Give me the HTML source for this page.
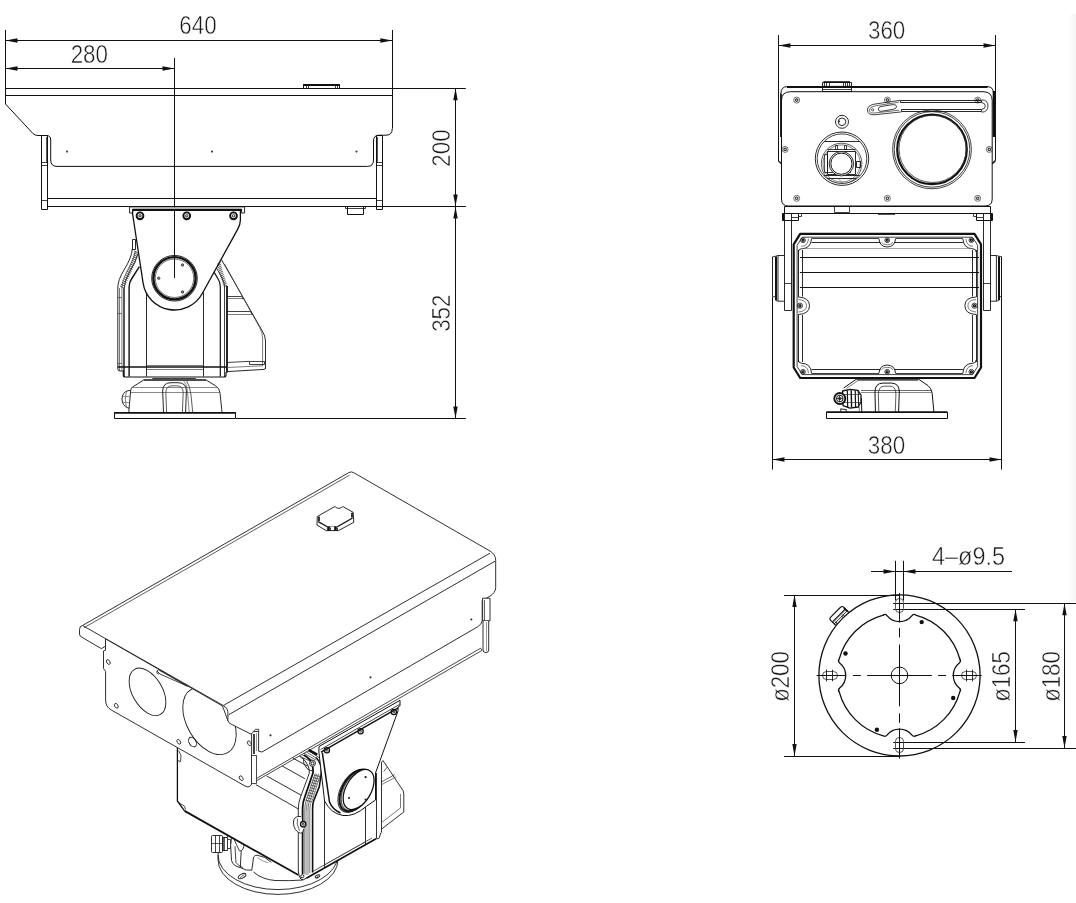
<!DOCTYPE html>
<html lang="en">
<head>
<meta charset="utf-8">
<title>PTZ camera housing - outline dimensions</title>
<style>
html,body{margin:0;padding:0;background:#fff;}
body{width:1076px;height:903px;overflow:hidden;font-family:"Liberation Sans",sans-serif;}
svg{display:block;filter:grayscale(1);}
svg text{font-family:"Liberation Sans",sans-serif;}
</style>
</head>
<body>
<svg width="1076" height="903" viewBox="0 0 1076 903" fill="none" stroke-linecap="butt" stroke-linejoin="round">
<defs><linearGradient id="edge" x1="0" y1="0" x2="1" y2="0"><stop offset="0" stop-color="#ffffff"/><stop offset="1" stop-color="#f5f5f5"/></linearGradient></defs>
<rect x="0" y="0" width="1076" height="903" fill="#fff" stroke="none"/>
<rect x="1068" y="14" width="8" height="588" fill="url(#edge)" stroke="none"/>
<!-- side view -->
<line x1="5.50" y1="30.00" x2="5.50" y2="104.00" stroke="#111" stroke-width="1" />
<line x1="392.50" y1="30.00" x2="392.50" y2="128.50" stroke="#111" stroke-width="1" />
<line x1="5.50" y1="40.50" x2="392.30" y2="40.50" stroke="#111" stroke-width="1" /><polygon points="5.50,40.50 17.50,38.30 17.50,42.70" fill="#111"/><polygon points="392.30,40.50 380.30,42.70 380.30,38.30" fill="#111"/>
<line x1="5.50" y1="68.50" x2="174.50" y2="68.50" stroke="#111" stroke-width="1" /><polygon points="5.50,68.50 17.50,66.30 17.50,70.70" fill="#111"/><polygon points="174.50,68.50 162.50,70.70 162.50,66.30" fill="#111"/>
<line x1="174.50" y1="58.00" x2="174.50" y2="278.00" stroke="#111" stroke-width="1" />
<text transform="translate(198.00 34.40) rotate(0) scale(0.845 1)" text-anchor="middle" font-size="26.5" fill="#1a1a1a" stroke="#fff" stroke-width="0.5">640</text>
<text transform="translate(89.30 62.60) rotate(0) scale(0.845 1)" text-anchor="middle" font-size="26.5" fill="#1a1a1a" stroke="#fff" stroke-width="0.5">280</text>
<line x1="5.50" y1="88.50" x2="465.80" y2="88.50" stroke="#111" stroke-width="1" />
<line x1="47.70" y1="206.50" x2="465.80" y2="206.50" stroke="#111" stroke-width="1" />
<line x1="235.80" y1="418.50" x2="465.80" y2="418.50" stroke="#111" stroke-width="1" />
<line x1="455.50" y1="88.30" x2="455.50" y2="206.40" stroke="#111" stroke-width="1" /><polygon points="455.50,88.30 457.70,100.30 453.30,100.30" fill="#111"/><polygon points="455.50,206.40 453.30,194.40 457.70,194.40" fill="#111"/>
<line x1="455.50" y1="206.40" x2="455.50" y2="418.40" stroke="#111" stroke-width="1" /><polygon points="455.50,206.40 457.70,218.40 453.30,218.40" fill="#111"/><polygon points="455.50,418.40 453.30,406.40 457.70,406.40" fill="#111"/>
<text transform="translate(449.70 148.00) rotate(-90) scale(0.845 1)" text-anchor="middle" font-size="26.5" fill="#1a1a1a" stroke="#fff" stroke-width="0.5">200</text>
<text transform="translate(449.70 313.20) rotate(-90) scale(0.845 1)" text-anchor="middle" font-size="26.5" fill="#1a1a1a" stroke="#fff" stroke-width="0.5">352</text>
<line x1="5.50" y1="95.50" x2="392.30" y2="95.50" stroke="#111" stroke-width="1" />
<path d="M5.5,104 L33,133.6 Q35,135.5 38,135.5 H46.5 Q50.7,135.5 50.7,140 V160 Q50.7,166.4 57,166.4 H367.5 Q373.5,166.4 373.5,160 V141 Q373.5,135.2 379,135.2 H386 Q392.3,135.2 392.3,128.5" fill="none" stroke="#111" stroke-width="1" />
<rect x="41.50" y="135.50" width="6.00" height="74.00" rx="0" fill="none" stroke="#111" stroke-width="1"/>
<line x1="46.50" y1="137.00" x2="46.50" y2="162.60" stroke="#111" stroke-width="0.7" />
<line x1="41.40" y1="162.50" x2="47.70" y2="162.50" stroke="#111" stroke-width="0.8" />
<line x1="41.40" y1="165.50" x2="47.70" y2="165.50" stroke="#111" stroke-width="0.8" />
<line x1="41.40" y1="200.50" x2="47.70" y2="200.50" stroke="#111" stroke-width="0.8" />
<rect x="376.50" y="135.50" width="6.00" height="74.00" rx="0" fill="none" stroke="#111" stroke-width="1"/>
<line x1="377.50" y1="137.00" x2="377.50" y2="162.60" stroke="#111" stroke-width="0.7" />
<line x1="376.50" y1="162.50" x2="382.80" y2="162.50" stroke="#111" stroke-width="0.8" />
<line x1="376.50" y1="165.50" x2="382.80" y2="165.50" stroke="#111" stroke-width="0.8" />
<line x1="376.50" y1="200.50" x2="382.80" y2="200.50" stroke="#111" stroke-width="0.8" />
<line x1="47.70" y1="198.50" x2="376.50" y2="198.50" stroke="#111" stroke-width="1" />
<circle cx="67.00" cy="151.60" r="1.1" fill="#444"/>
<circle cx="212.00" cy="151.60" r="1.1" fill="#444"/>
<circle cx="356.50" cy="151.60" r="1.1" fill="#444"/>
<rect x="303.50" y="84.50" width="36.00" height="4.00" rx="0" fill="none" stroke="#111" stroke-width="1"/>
<line x1="303.30" y1="85.00" x2="339.80" y2="85.00" stroke="#111" stroke-width="1.8" />
<line x1="306.50" y1="85.00" x2="306.50" y2="88.30" stroke="#111" stroke-width="0.8" />
<line x1="308.50" y1="85.00" x2="308.50" y2="88.30" stroke="#111" stroke-width="0.8" />
<line x1="335.50" y1="85.00" x2="335.50" y2="88.30" stroke="#111" stroke-width="0.8" />
<line x1="337.50" y1="85.00" x2="337.50" y2="88.30" stroke="#111" stroke-width="0.8" />
<rect x="345.50" y="206.50" width="20.00" height="2.00" rx="0" fill="none" stroke="#111" stroke-width="0.8"/>
<rect x="347.50" y="206.50" width="16.00" height="8.00" rx="0" fill="none" stroke="#111" stroke-width="1"/>
<path d="M129.6,213 V206.9 H244.6 V213 H241.6 V209.3 H132.6 V213 Z" fill="none" stroke="#111" stroke-width="0.9" />
<path d="M132.6,207.4 H241.6 V209.4 H132.6 Z" fill="#b5b5b5" stroke="none" stroke-width="none" />
<line x1="132.20" y1="210.00" x2="241.80" y2="210.00" stroke="#111" stroke-width="2.0" />
<circle cx="140.00" cy="215.80" r="3.40" fill="none" stroke="#111" stroke-width="1.9"/>
<circle cx="140.00" cy="215.80" r="1.20" fill="none" stroke="#111" stroke-width="0.9"/>
<circle cx="186.75" cy="215.80" r="3.40" fill="none" stroke="#111" stroke-width="1.9"/>
<circle cx="186.75" cy="215.80" r="1.20" fill="none" stroke="#111" stroke-width="0.9"/>
<circle cx="233.50" cy="215.80" r="3.40" fill="none" stroke="#111" stroke-width="1.9"/>
<circle cx="233.50" cy="215.80" r="1.20" fill="none" stroke="#111" stroke-width="0.9"/>
<path d="M132.6,211 V214 L143.1,283.1 A31.75,31.75 0 0 0 202.3,293.5 L237.6,229.4 Q240.4,224.5 240.4,220 V211" fill="none" stroke="#111" stroke-width="1.3" />
<circle cx="174.50" cy="278.25" r="22.80" fill="none" stroke="#111" stroke-width="0.9"/>
<circle cx="174.50" cy="278.25" r="21.10" fill="none" stroke="#111" stroke-width="2.4"/>
<circle cx="174.50" cy="278.25" r="19.20" fill="none" stroke="#333" stroke-width="0.7"/>
<circle cx="182.50" cy="265.00" r="1.20" fill="#999" stroke="#222" stroke-width="0.8"/>
<circle cx="158.75" cy="278.25" r="1.20" fill="#999" stroke="#222" stroke-width="0.8"/>
<circle cx="182.50" cy="292.00" r="1.20" fill="#999" stroke="#222" stroke-width="0.8"/>
<path d="M139.4,266.7 L131.5,279 Q129.1,282.5 129.1,287 V376.6" fill="none" stroke="#111" stroke-width="1.4" />
<path d="M214.2,272.4 L218.4,279.5 Q220.3,282.8 220.3,287 V376.6" fill="none" stroke="#111" stroke-width="1.2" />
<line x1="124.00" y1="288.00" x2="124.00" y2="376.60" stroke="#111" stroke-width="1.4" />
<line x1="224.50" y1="287.00" x2="224.50" y2="376.60" stroke="#111" stroke-width="0.8" />
<line x1="227.00" y1="286.00" x2="227.00" y2="372.50" stroke="#111" stroke-width="1.8" />
<line x1="146.50" y1="294.00" x2="146.50" y2="376.60" stroke="#111" stroke-width="0.9" />
<line x1="203.50" y1="292.40" x2="203.50" y2="376.60" stroke="#111" stroke-width="0.9" />
<path d="M132.3,249 Q132,257 124,270 Q117.8,280 117.8,288 V369 Q117.8,371 120,371 H123.5" fill="none" stroke="#111" stroke-width="0.9" />
<path d="M137.9,253.9 Q136,262 129.5,272 Q124.3,281 124.3,288" fill="none" stroke="#111" stroke-width="0.9" />
<path d="M135.3,251.5 Q133.5,260 127,271 Q121.9,280 121.9,288 V371" fill="none" stroke="#444" stroke-width="0.7" />
<line x1="119.50" y1="288.00" x2="119.50" y2="371.00" stroke="#444" stroke-width="0.7" />
<rect x="132.50" y="239.50" width="3.00" height="10.00" rx="0" fill="none" stroke="#111" stroke-width="0.9"/>
<line x1="117.80" y1="297.50" x2="121.90" y2="297.50" stroke="#444" stroke-width="0.7" />
<line x1="117.80" y1="313.50" x2="121.90" y2="313.50" stroke="#444" stroke-width="0.7" />
<line x1="117.80" y1="363.50" x2="121.90" y2="363.50" stroke="#444" stroke-width="0.7" />
<line x1="134.30" y1="251.00" x2="138.10" y2="252.90" stroke="#222" stroke-width="0.8" />
<line x1="133.94" y1="252.84" x2="137.74" y2="254.74" stroke="#222" stroke-width="0.8" />
<line x1="133.44" y1="254.68" x2="137.24" y2="256.58" stroke="#222" stroke-width="0.8" />
<line x1="132.88" y1="256.53" x2="136.68" y2="258.43" stroke="#222" stroke-width="0.8" />
<line x1="132.26" y1="258.37" x2="136.06" y2="260.27" stroke="#222" stroke-width="0.8" />
<line x1="131.60" y1="260.21" x2="135.40" y2="262.11" stroke="#222" stroke-width="0.8" />
<line x1="130.91" y1="262.05" x2="134.71" y2="263.95" stroke="#222" stroke-width="0.8" />
<line x1="130.20" y1="263.89" x2="134.00" y2="265.79" stroke="#222" stroke-width="0.8" />
<line x1="129.45" y1="265.74" x2="133.25" y2="267.64" stroke="#222" stroke-width="0.8" />
<line x1="128.68" y1="267.58" x2="132.48" y2="269.48" stroke="#222" stroke-width="0.8" />
<line x1="127.89" y1="269.42" x2="131.69" y2="271.32" stroke="#222" stroke-width="0.8" />
<line x1="127.08" y1="271.26" x2="130.88" y2="273.16" stroke="#222" stroke-width="0.8" />
<line x1="126.25" y1="273.11" x2="130.05" y2="275.01" stroke="#222" stroke-width="0.8" />
<line x1="125.40" y1="274.95" x2="129.20" y2="276.85" stroke="#222" stroke-width="0.8" />
<line x1="124.54" y1="276.79" x2="128.34" y2="278.69" stroke="#222" stroke-width="0.8" />
<line x1="123.66" y1="278.63" x2="127.46" y2="280.53" stroke="#222" stroke-width="0.8" />
<line x1="122.76" y1="280.47" x2="126.56" y2="282.37" stroke="#222" stroke-width="0.8" />
<line x1="121.86" y1="282.32" x2="125.66" y2="284.22" stroke="#222" stroke-width="0.8" />
<line x1="120.93" y1="284.16" x2="124.73" y2="286.06" stroke="#222" stroke-width="0.8" />
<line x1="120.00" y1="286.00" x2="123.80" y2="287.90" stroke="#222" stroke-width="0.8" />
<line x1="217.20" y1="264.20" x2="220.60" y2="262.50" stroke="#222" stroke-width="0.8" />
<line x1="217.50" y1="265.93" x2="220.90" y2="264.23" stroke="#222" stroke-width="0.8" />
<line x1="217.90" y1="267.66" x2="221.30" y2="265.96" stroke="#222" stroke-width="0.8" />
<line x1="218.34" y1="269.39" x2="221.74" y2="267.69" stroke="#222" stroke-width="0.8" />
<line x1="218.80" y1="271.12" x2="222.20" y2="269.42" stroke="#222" stroke-width="0.8" />
<line x1="219.30" y1="272.85" x2="222.70" y2="271.15" stroke="#222" stroke-width="0.8" />
<line x1="219.81" y1="274.58" x2="223.21" y2="272.88" stroke="#222" stroke-width="0.8" />
<line x1="220.34" y1="276.32" x2="223.74" y2="274.62" stroke="#222" stroke-width="0.8" />
<line x1="220.89" y1="278.05" x2="224.29" y2="276.35" stroke="#222" stroke-width="0.8" />
<line x1="221.45" y1="279.78" x2="224.85" y2="278.08" stroke="#222" stroke-width="0.8" />
<line x1="222.02" y1="281.51" x2="225.42" y2="279.81" stroke="#222" stroke-width="0.8" />
<line x1="222.60" y1="283.24" x2="226.00" y2="281.54" stroke="#222" stroke-width="0.8" />
<line x1="223.20" y1="284.97" x2="226.60" y2="283.27" stroke="#222" stroke-width="0.8" />
<line x1="223.80" y1="286.70" x2="227.20" y2="285.00" stroke="#222" stroke-width="0.8" />
<path d="M216.5,268 L222,278 Q224.6,283 224.6,287" fill="none" stroke="#111" stroke-width="0.8" />
<path d="M221.4,259.5 L262.3,331 Q265.5,336 265.5,341 V368.5" fill="none" stroke="#111" stroke-width="0.9" />
<path d="M224.6,264 L259.6,327.5 Q262.6,333 262.6,338 V366" fill="none" stroke="#444" stroke-width="0.7" />
<line x1="227.00" y1="296.50" x2="241.60" y2="296.50" stroke="#111" stroke-width="0.8" />
<line x1="227.00" y1="298.50" x2="243.00" y2="298.50" stroke="#444" stroke-width="0.7" />
<path d="M241.6,296.4 L243.3,299.3" fill="none" stroke="#111" stroke-width="0.7" />
<line x1="227.00" y1="311.50" x2="250.60" y2="311.50" stroke="#111" stroke-width="0.8" />
<line x1="227.00" y1="314.50" x2="252.00" y2="314.50" stroke="#444" stroke-width="0.7" />
<path d="M250.6,311.7 L252.3,314.6" fill="none" stroke="#111" stroke-width="0.7" />
<line x1="227.00" y1="362.50" x2="249.60" y2="361.30" stroke="#111" stroke-width="0.8" />
<rect x="249.50" y="361.50" width="15.00" height="3.00" rx="0" fill="none" stroke="#111" stroke-width="0.8"/>
<path d="M227,371.6 L264,369.4 Q265.5,369.3 265.5,368" fill="none" stroke="#111" stroke-width="0.9" />
<line x1="227.00" y1="367.50" x2="262.60" y2="365.80" stroke="#444" stroke-width="0.7" />
<line x1="117.80" y1="367.00" x2="227.00" y2="367.00" stroke="#111" stroke-width="1.6" />
<line x1="146.40" y1="365.50" x2="203.70" y2="365.50" stroke="#444" stroke-width="0.7" />
<line x1="146.40" y1="369.50" x2="203.70" y2="369.50" stroke="#444" stroke-width="0.7" />
<path d="M123.3,371 V375 Q123.3,377 125.3,377 H224 Q226,377 226,375 V372" fill="none" stroke="#111" stroke-width="1.2" />
<line x1="152.40" y1="378.50" x2="195.90" y2="378.50" stroke="#111" stroke-width="0.8" />
<line x1="143.70" y1="380.00" x2="206.10" y2="380.00" stroke="#111" stroke-width="1.6" />
<path d="M143.7,380 L132.5,387 Q130.8,388.2 130.6,391 L128.8,412" fill="none" stroke="#111" stroke-width="0.9" />
<path d="M206.1,380 L215.5,385.8 Q219.5,388 220,393 L222,412" fill="none" stroke="#111" stroke-width="0.9" />
<line x1="131.50" y1="387.50" x2="218.00" y2="387.50" stroke="#555" stroke-width="0.7" />
<line x1="130.80" y1="392.50" x2="220.00" y2="392.50" stroke="#555" stroke-width="0.7" />
<path d="M163.5,412 L162.7,391 Q162.7,382.7 171,382.7 H178 Q186.4,382.7 186.4,391 L185.6,412" fill="none" stroke="#111" stroke-width="0.9" />
<path d="M166.6,412 L165.8,393 Q165.8,385.8 172,385.8 H177 Q183.2,385.8 183.2,393 L182.4,412" fill="none" stroke="#333" stroke-width="0.8" />
<path d="M186.4,380.3 Q190,386 191,395 L192.7,412" fill="none" stroke="#333" stroke-width="0.8" />
<path d="M183,380.3 Q186.5,383 187.5,392 L189.2,412" fill="none" stroke="#555" stroke-width="0.7" />
<path d="M130.2,390.6 H128 Q122,392.5 122,399 Q122,405.5 128,408 H129.2" fill="none" stroke="#111" stroke-width="0.9" />
<path d="M126.3,391.2 Q124.5,399 126.3,407.3" fill="none" stroke="#444" stroke-width="0.7" />
<line x1="122.60" y1="396.50" x2="130.00" y2="396.50" stroke="#555" stroke-width="0.6" />
<line x1="122.60" y1="402.50" x2="129.60" y2="402.50" stroke="#555" stroke-width="0.6" />
<rect x="114.50" y="412.50" width="121.00" height="6.00" rx="0" fill="none" stroke="#111" stroke-width="1"/>
<line x1="114.20" y1="413.00" x2="235.80" y2="413.00" stroke="#111" stroke-width="1.6" />
<!-- front view -->
<line x1="778.50" y1="35.00" x2="778.50" y2="161.00" stroke="#111" stroke-width="1" />
<line x1="995.50" y1="35.00" x2="995.50" y2="160.50" stroke="#111" stroke-width="1" />
<line x1="778.40" y1="45.50" x2="995.50" y2="45.50" stroke="#111" stroke-width="1" /><polygon points="778.40,45.50 790.40,43.30 790.40,47.70" fill="#111"/><polygon points="995.50,45.50 983.50,47.70 983.50,43.30" fill="#111"/>
<text transform="translate(886.60 39.40) rotate(0) scale(0.845 1)" text-anchor="middle" font-size="26.5" fill="#1a1a1a" stroke="#fff" stroke-width="0.5">360</text>
<path d="M780.9,137 V93.5 Q780.9,86.6 787.5,86.6 H987 Q993.5,86.6 993.5,93.5" fill="none" stroke="#111" stroke-width="1" />
<line x1="787.00" y1="87.00" x2="987.50" y2="87.00" stroke="#111" stroke-width="2.0" />
<line x1="781.00" y1="93.50" x2="781.00" y2="137.00" stroke="#111" stroke-width="1.6" />
<line x1="994.00" y1="91.00" x2="994.00" y2="137.00" stroke="#111" stroke-width="2.6" />
<path d="M778.4,161 L781.5,163.8" fill="none" stroke="#111" stroke-width="1.2" />
<path d="M995.5,160.5 L992.2,163.8" fill="none" stroke="#111" stroke-width="1.6" />
<path d="M781.5,199 V100.5 Q781.5,91.7 790.5,91.7 H983 Q992.2,91.7 992.2,100.5 V199 Q992.2,206 985,206 H788.5 Q781.5,206 781.5,199 Z" fill="none" stroke="#111" stroke-width="1" />
<rect x="822.50" y="82.50" width="29.00" height="9.00" rx="0" fill="none" stroke="#111" stroke-width="0.9"/>
<line x1="823.50" y1="82.00" x2="850.00" y2="82.00" stroke="#111" stroke-width="1.6" />
<line x1="822.30" y1="86.50" x2="851.00" y2="86.50" stroke="#111" stroke-width="1.2" />
<line x1="822.30" y1="89.50" x2="851.00" y2="89.50" stroke="#111" stroke-width="0.8" />
<line x1="824.50" y1="83.00" x2="824.50" y2="86.20" stroke="#111" stroke-width="0.8" />
<line x1="826.50" y1="83.00" x2="826.50" y2="86.20" stroke="#111" stroke-width="0.8" />
<line x1="829.50" y1="83.00" x2="829.50" y2="86.20" stroke="#111" stroke-width="0.8" />
<line x1="843.50" y1="83.00" x2="843.50" y2="86.20" stroke="#111" stroke-width="0.8" />
<line x1="845.50" y1="83.00" x2="845.50" y2="86.20" stroke="#111" stroke-width="0.8" />
<line x1="847.50" y1="83.00" x2="847.50" y2="86.20" stroke="#111" stroke-width="0.8" />
<line x1="849.50" y1="83.00" x2="849.50" y2="86.20" stroke="#111" stroke-width="0.8" />
<circle cx="796.70" cy="100.10" r="3.00" fill="none" stroke="#333" stroke-width="0.7"/><circle cx="796.70" cy="100.10" r="1.26" fill="none" stroke="#333" stroke-width="1.1"/>
<circle cx="887.40" cy="100.10" r="3.00" fill="none" stroke="#333" stroke-width="0.7"/><circle cx="887.40" cy="100.10" r="1.26" fill="none" stroke="#333" stroke-width="1.1"/>
<circle cx="977.70" cy="100.10" r="3.00" fill="none" stroke="#333" stroke-width="0.7"/><circle cx="977.70" cy="100.10" r="1.26" fill="none" stroke="#333" stroke-width="1.1"/>
<circle cx="785.10" cy="149.40" r="3.00" fill="none" stroke="#333" stroke-width="0.7"/><circle cx="785.10" cy="149.40" r="1.26" fill="none" stroke="#333" stroke-width="1.1"/>
<circle cx="989.30" cy="149.40" r="3.00" fill="none" stroke="#333" stroke-width="0.7"/><circle cx="989.30" cy="149.40" r="1.26" fill="none" stroke="#333" stroke-width="1.1"/>
<circle cx="796.70" cy="198.30" r="3.00" fill="none" stroke="#333" stroke-width="0.7"/><circle cx="796.70" cy="198.30" r="1.26" fill="none" stroke="#333" stroke-width="1.1"/>
<circle cx="887.40" cy="198.30" r="3.00" fill="none" stroke="#333" stroke-width="0.7"/><circle cx="887.40" cy="198.30" r="1.26" fill="none" stroke="#333" stroke-width="1.1"/>
<circle cx="977.70" cy="198.30" r="3.00" fill="none" stroke="#333" stroke-width="0.7"/><circle cx="977.70" cy="198.30" r="1.26" fill="none" stroke="#333" stroke-width="1.1"/>
<circle cx="842.00" cy="121.80" r="6.50" fill="none" stroke="#111" stroke-width="0.9"/>
<circle cx="842.00" cy="121.80" r="3.80" fill="none" stroke="#111" stroke-width="0.9"/>
<circle cx="839.30" cy="121.40" r="0.8" fill="#222"/>
<circle cx="842.00" cy="158.70" r="26.70" fill="none" stroke="#111" stroke-width="0.9"/>
<circle cx="842.00" cy="158.70" r="24.80" fill="none" stroke="#111" stroke-width="0.8"/>
<clipPath id="lensL"><circle cx="842" cy="158.7" r="24.6"/></clipPath>
<g clip-path="url(#lensL)"><line x1="815.00" y1="141.50" x2="870.00" y2="141.50" stroke="#111" stroke-width="0.9" /><circle cx="841.60" cy="163.50" r="20.30" fill="none" stroke="#333" stroke-width="0.8"/><circle cx="841.60" cy="163.50" r="18.60" fill="none" stroke="#444" stroke-width="0.7"/><rect x="827.50" y="151.50" width="28.00" height="23.00" rx="0" fill="none" stroke="#111" stroke-width="0.9"/><line x1="827.40" y1="149.50" x2="855.60" y2="149.50" stroke="#111" stroke-width="0.8" /><rect x="835.50" y="145.50" width="2.00" height="4.00" rx="0" fill="none" stroke="#111" stroke-width="0.8"/><rect x="844.50" y="145.50" width="2.00" height="4.00" rx="0" fill="none" stroke="#111" stroke-width="0.8"/><rect x="824.50" y="154.50" width="3.00" height="18.00" rx="0" fill="none" stroke="#111" stroke-width="0.7"/><rect x="856.50" y="161.50" width="4.00" height="6.00" rx="0" fill="none" stroke="#111" stroke-width="0.9"/><line x1="820.00" y1="175.50" x2="864.00" y2="175.50" stroke="#111" stroke-width="0.9" /><line x1="820.00" y1="178.50" x2="864.00" y2="178.50" stroke="#111" stroke-width="0.9" /><line x1="827.40" y1="172.50" x2="851.00" y2="172.50" stroke="#111" stroke-width="0.8" /><circle cx="841.40" cy="163.70" r="12.20" fill="#fff" stroke="#111" stroke-width="0.9"/><circle cx="841.40" cy="163.70" r="10.60" fill="none" stroke="#111" stroke-width="1.0"/><line x1="838.00" y1="178.60" x2="845.00" y2="185.00" stroke="#555" stroke-width="0.6" /></g>
<circle cx="932.00" cy="149.40" r="39.40" fill="none" stroke="#111" stroke-width="0.8"/>
<circle cx="932.00" cy="149.40" r="37.80" fill="none" stroke="#111" stroke-width="0.8"/>
<circle cx="932.00" cy="149.40" r="34.80" fill="none" stroke="#111" stroke-width="2.2"/>
<circle cx="932.60" cy="148.90" r="33.60" fill="none" stroke="#333" stroke-width="0.8"/>
<rect x="900.50" y="100.50" width="81.00" height="2.00" rx="0" fill="none" stroke="#111" stroke-width="0.9"/>
<rect x="901.50" y="109.50" width="80.00" height="2.00" rx="0" fill="none" stroke="#111" stroke-width="0.9"/>
<path d="M981.6,99.8 Q988,100 988,106 Q988,112 981.6,112.2" fill="none" stroke="#111" stroke-width="0.8" />
<path d="M981.6,102.6 Q985.3,103 985.3,106 Q985.3,109 981.6,109.4" fill="none" stroke="#111" stroke-width="0.8" />
<path d="M900.2,100.3 L874,104.2 Q867.5,105.5 867.5,110 Q867.5,115 874,114.8 L901.4,111.9" fill="none" stroke="#111" stroke-width="0.8" />
<path d="M899,102.2 L875,105.9 Q869.4,107 869.4,110 Q869.4,113.4 874.5,113 L899,110.2" fill="none" stroke="#333" stroke-width="0.7" />
<path d="M881,106.5 L893,104.6 Q896.5,104.3 896.5,106.6 Q896.5,108.6 893.5,109.2 L881.5,111.3 Q878.3,111.6 878.3,109.2 Q878.3,107 881,106.5 Z" fill="none" stroke="#111" stroke-width="0.8" />
<circle cx="872.60" cy="109.80" r="1.10" fill="none" stroke="#111" stroke-width="0.7"/>
<rect x="784.50" y="206.50" width="206.00" height="7.00" rx="0" fill="none" stroke="#111" stroke-width="1"/>
<rect x="834.50" y="206.50" width="15.00" height="6.00" rx="0" fill="none" stroke="#111" stroke-width="0.8"/>
<line x1="878.00" y1="214.00" x2="895.00" y2="214.00" stroke="#111" stroke-width="1.4" />
<rect x="784.50" y="213.50" width="7.00" height="97.00" rx="0" fill="none" stroke="#111" stroke-width="0.9"/>
<rect x="782.50" y="213.50" width="16.00" height="7.00" rx="0" fill="none" stroke="#111" stroke-width="1.0"/>
<line x1="783.00" y1="214.00" x2="783.00" y2="220.00" stroke="#111" stroke-width="2.0" />
<line x1="791.40" y1="217.50" x2="798.30" y2="217.50" stroke="#111" stroke-width="0.8" />
<rect x="798.50" y="213.50" width="3.00" height="3.00" rx="0" fill="none" stroke="#111" stroke-width="0.8"/>
<line x1="784.40" y1="283.50" x2="791.40" y2="283.50" stroke="#111" stroke-width="0.8" />
<path d="M784.40,255.5 H778.00 V301.2 H784.40" fill="none" stroke="#111" stroke-width="0.9" />
<line x1="776.00" y1="256.40" x2="776.00" y2="300.30" stroke="#111" stroke-width="2.0" />
<line x1="772.50" y1="256.80" x2="772.50" y2="296.70" stroke="#111" stroke-width="0.9" />
<path d="M772.50,256.8 L775.60,256.2 L778.00,255.5" fill="none" stroke="#111" stroke-width="0.8" />
<path d="M772.50,296.7 H775.00 M775.60,300.4 L778.00,301.2" fill="none" stroke="#111" stroke-width="0.8" />
<rect x="983.50" y="213.50" width="7.00" height="97.00" rx="0" fill="none" stroke="#111" stroke-width="0.9"/>
<rect x="976.50" y="213.50" width="16.00" height="7.00" rx="0" fill="none" stroke="#111" stroke-width="1.0"/>
<line x1="992.00" y1="214.00" x2="992.00" y2="220.00" stroke="#111" stroke-width="2.0" />
<line x1="983.00" y1="217.50" x2="976.10" y2="217.50" stroke="#111" stroke-width="0.8" />
<rect x="973.50" y="213.50" width="3.00" height="3.00" rx="0" fill="none" stroke="#111" stroke-width="0.8"/>
<line x1="990.00" y1="283.50" x2="983.00" y2="283.50" stroke="#111" stroke-width="0.8" />
<path d="M990.00,255.5 H996.40 V301.2 H990.00" fill="none" stroke="#111" stroke-width="0.9" />
<line x1="999.00" y1="256.40" x2="999.00" y2="300.30" stroke="#111" stroke-width="2.0" />
<line x1="1001.50" y1="256.80" x2="1001.50" y2="296.70" stroke="#111" stroke-width="0.9" />
<path d="M1001.90,256.8 L998.80,256.2 L996.40,255.5" fill="none" stroke="#111" stroke-width="0.8" />
<path d="M1001.90,296.7 H999.40 M998.80,300.4 L996.40,301.2" fill="none" stroke="#111" stroke-width="0.8" />
<line x1="772.50" y1="297.00" x2="772.50" y2="469.50" stroke="#111" stroke-width="1" />
<line x1="1001.50" y1="257.00" x2="1001.50" y2="469.50" stroke="#111" stroke-width="1" />
<line x1="772.50" y1="459.50" x2="1001.50" y2="459.50" stroke="#111" stroke-width="1" /><polygon points="772.50,459.50 784.50,457.30 784.50,461.70" fill="#111"/><polygon points="1001.50,459.50 989.50,461.70 989.50,457.30" fill="#111"/>
<text transform="translate(886.50 453.90) rotate(0) scale(0.845 1)" text-anchor="middle" font-size="26.5" fill="#1a1a1a" stroke="#fff" stroke-width="0.5">380</text>
<path d="M800.2,233.8 H974.5 L981.0,244.3 V367.5 L974.5,378.0 H800.2 L793.7,367.5 V244.3 Z" fill="none" stroke="#111" stroke-width="2.2" />
<path d="M802.2,237.20000000000002 H972.5 L977.6,245.3 V366.5 L972.5,374.6 H802.2 L797.1,366.5 V245.3 Z" fill="none" stroke="#111" stroke-width="0.8" />
<line x1="811.50" y1="238.50" x2="879.00" y2="238.50" stroke="#111" stroke-width="0.8" />
<line x1="895.50" y1="238.50" x2="962.90" y2="238.50" stroke="#111" stroke-width="0.8" />
<line x1="811.50" y1="373.50" x2="879.00" y2="373.50" stroke="#111" stroke-width="0.8" />
<line x1="895.50" y1="373.50" x2="962.90" y2="373.50" stroke="#111" stroke-width="0.8" />
<line x1="811.50" y1="242.50" x2="880.50" y2="242.50" stroke="#111" stroke-width="0.9" />
<line x1="894.00" y1="242.50" x2="962.90" y2="242.50" stroke="#111" stroke-width="0.9" />
<line x1="811.50" y1="369.50" x2="880.50" y2="369.50" stroke="#111" stroke-width="0.9" />
<line x1="894.00" y1="369.50" x2="962.90" y2="369.50" stroke="#111" stroke-width="0.9" />
<line x1="798.50" y1="250.00" x2="798.50" y2="297.00" stroke="#111" stroke-width="0.9" />
<line x1="798.50" y1="314.50" x2="798.50" y2="362.00" stroke="#111" stroke-width="0.9" />
<line x1="802.50" y1="250.00" x2="802.50" y2="296.50" stroke="#111" stroke-width="0.9" />
<line x1="802.50" y1="315.00" x2="802.50" y2="362.00" stroke="#111" stroke-width="0.9" />
<path d="M811.50,238.8 Q811.00,248.5 801.40,248.8 Q798.30,249 798.30,252" fill="none" stroke="#111" stroke-width="0.9" />
<path d="M808.50,238.8 Q808.00,246 801.40,246.4" fill="none" stroke="#444" stroke-width="0.7" />
<circle cx="803.00" cy="240.20" r="2.40" fill="none" stroke="#111" stroke-width="0.8"/><circle cx="803.00" cy="240.20" r="1.01" fill="none" stroke="#111" stroke-width="1.2000000000000002"/>
<path d="M811.50,373.2 Q811.00,363.5 801.40,363.2 Q798.30,363 798.30,360" fill="none" stroke="#111" stroke-width="0.9" />
<path d="M808.50,373.2 Q808.00,366 801.40,365.6" fill="none" stroke="#444" stroke-width="0.7" />
<circle cx="803.00" cy="371.80" r="2.40" fill="none" stroke="#111" stroke-width="0.8"/><circle cx="803.00" cy="371.80" r="1.01" fill="none" stroke="#111" stroke-width="1.2000000000000002"/>
<path d="M798.30,297 Q809.50,297.5 809.50,305.7 Q809.50,314 798.30,314.5" fill="none" stroke="#111" stroke-width="0.9" />
<path d="M798.30,299.5 Q806.50,300 806.50,305.7 Q806.50,311.5 798.30,312" fill="none" stroke="#444" stroke-width="0.7" />
<circle cx="799.90" cy="305.70" r="2.60" fill="none" stroke="#111" stroke-width="0.8"/><circle cx="799.90" cy="305.70" r="1.09" fill="none" stroke="#111" stroke-width="1.2000000000000002"/>
<line x1="976.50" y1="250.00" x2="976.50" y2="297.00" stroke="#111" stroke-width="0.9" />
<line x1="976.50" y1="314.50" x2="976.50" y2="362.00" stroke="#111" stroke-width="0.9" />
<line x1="972.50" y1="250.00" x2="972.50" y2="296.50" stroke="#111" stroke-width="0.9" />
<line x1="972.50" y1="315.00" x2="972.50" y2="362.00" stroke="#111" stroke-width="0.9" />
<path d="M962.90,238.8 Q963.40,248.5 973.00,248.8 Q976.10,249 976.10,252" fill="none" stroke="#111" stroke-width="0.9" />
<path d="M965.90,238.8 Q966.40,246 973.00,246.4" fill="none" stroke="#444" stroke-width="0.7" />
<circle cx="971.40" cy="240.20" r="2.40" fill="none" stroke="#111" stroke-width="0.8"/><circle cx="971.40" cy="240.20" r="1.01" fill="none" stroke="#111" stroke-width="1.2000000000000002"/>
<path d="M962.90,373.2 Q963.40,363.5 973.00,363.2 Q976.10,363 976.10,360" fill="none" stroke="#111" stroke-width="0.9" />
<path d="M965.90,373.2 Q966.40,366 973.00,365.6" fill="none" stroke="#444" stroke-width="0.7" />
<circle cx="971.40" cy="371.80" r="2.40" fill="none" stroke="#111" stroke-width="0.8"/><circle cx="971.40" cy="371.80" r="1.01" fill="none" stroke="#111" stroke-width="1.2000000000000002"/>
<path d="M976.10,297 Q964.90,297.5 964.90,305.7 Q964.90,314 976.10,314.5" fill="none" stroke="#111" stroke-width="0.9" />
<path d="M976.10,299.5 Q967.90,300 967.90,305.7 Q967.90,311.5 976.10,312" fill="none" stroke="#444" stroke-width="0.7" />
<circle cx="974.50" cy="305.70" r="2.60" fill="none" stroke="#111" stroke-width="0.8"/><circle cx="974.50" cy="305.70" r="1.09" fill="none" stroke="#111" stroke-width="1.2000000000000002"/>
<path d="M879,238.79999999999998 Q879.5,246.7 887.2,247.0 Q895,246.7 895.5,238.79999999999998" fill="none" stroke="#111" stroke-width="0.9" />
<path d="M881.5,242.2 Q882.5,244.6 887.2,244.79999999999998 Q892,244.6 893,242.2" fill="none" stroke="#444" stroke-width="0.7" />
<circle cx="887.20" cy="240.20" r="2.40" fill="none" stroke="#111" stroke-width="0.8"/><circle cx="887.20" cy="240.20" r="1.01" fill="none" stroke="#111" stroke-width="1.2000000000000002"/>
<path d="M879,373.2 Q879.5,365.3 887.2,365.0 Q895,365.3 895.5,373.2" fill="none" stroke="#111" stroke-width="0.9" />
<path d="M881.5,369.8 Q882.5,367.40000000000003 887.2,367.2 Q892,367.40000000000003 893,369.8" fill="none" stroke="#444" stroke-width="0.7" />
<circle cx="887.20" cy="371.80" r="2.40" fill="none" stroke="#111" stroke-width="0.8"/><circle cx="887.20" cy="371.80" r="1.01" fill="none" stroke="#111" stroke-width="1.2000000000000002"/>
<line x1="801.00" y1="248.50" x2="973.40" y2="248.50" stroke="#666" stroke-width="0.6" />
<line x1="799.90" y1="257.50" x2="979.00" y2="257.50" stroke="#111" stroke-width="1.0" />
<line x1="799.90" y1="272.50" x2="979.00" y2="272.50" stroke="#111" stroke-width="1.0" />
<line x1="799.90" y1="287.50" x2="979.00" y2="287.50" stroke="#111" stroke-width="1.0" />
<line x1="856.10" y1="379.00" x2="918.90" y2="379.00" stroke="#111" stroke-width="1.5" />
<line x1="858.00" y1="380.50" x2="918.00" y2="380.50" stroke="#444" stroke-width="0.7" />
<path d="M856.1,379.4 L843.6,388" fill="none" stroke="#111" stroke-width="1.0" />
<path d="M858.5,380.2 L846.5,388.4" fill="none" stroke="#444" stroke-width="0.7" />
<path d="M918.9,379.4 L928,385.6 Q931.3,388 932.1,392.9 L933.9,411.8" fill="none" stroke="#111" stroke-width="1.0" />
<line x1="861.00" y1="390.50" x2="931.40" y2="390.50" stroke="#444" stroke-width="0.8" />
<line x1="861.00" y1="392.50" x2="931.80" y2="392.50" stroke="#555" stroke-width="0.7" />
<path d="M875.4,411.8 L875,392 Q875,383.1 883,383.1 H891.3 Q899.3,383.1 899.3,392 L898.6,411.8" fill="none" stroke="#111" stroke-width="1.0" />
<path d="M878.8,411.8 L878.4,394 Q878.4,386.2 884.4,386.2 H889.9 Q895.9,386.2 895.9,394 L895.3,411.8" fill="none" stroke="#333" stroke-width="0.8" />
<path d="M842.5,391 L850,389.4 L858,390.4 L861,395 V402 L858,407 L850,408.2 L843,405.6 Z" fill="#fff" stroke="#111" stroke-width="1.3" />
<line x1="847.30" y1="390.20" x2="847.70" y2="407.60" stroke="#111" stroke-width="1.2" />
<line x1="851.20" y1="390.20" x2="851.60" y2="407.60" stroke="#111" stroke-width="1.4" />
<line x1="855.20" y1="390.20" x2="855.60" y2="407.60" stroke="#111" stroke-width="1.2" />
<line x1="858.20" y1="390.20" x2="858.60" y2="407.60" stroke="#111" stroke-width="1.0" />
<line x1="843.00" y1="394.50" x2="860.50" y2="394.50" stroke="#333" stroke-width="0.7" />
<line x1="843.00" y1="402.50" x2="860.50" y2="402.50" stroke="#333" stroke-width="0.7" />
<circle cx="839.80" cy="398.50" r="5.50" fill="#fff" stroke="#111" stroke-width="1.9"/>
<circle cx="839.80" cy="398.50" r="3.30" fill="none" stroke="#111" stroke-width="1.0"/>
<circle cx="839.80" cy="398.50" r="1.30" fill="none" stroke="#111" stroke-width="0.9"/>
<line x1="836.60" y1="398.50" x2="843.00" y2="398.50" stroke="#111" stroke-width="0.7" />
<line x1="839.50" y1="395.30" x2="839.50" y2="401.70" stroke="#111" stroke-width="0.7" />
<line x1="861.30" y1="398.00" x2="861.80" y2="411.80" stroke="#111" stroke-width="1.0" />
<line x1="859.00" y1="404.00" x2="859.30" y2="411.80" stroke="#444" stroke-width="0.7" />
<path d="M840.8,408.6 V411.8 M846.2,409.4 V411.8 M840.8,408.9 L846.2,409.6" fill="none" stroke="#111" stroke-width="0.9" />
<rect x="826.50" y="412.50" width="121.00" height="6.00" rx="0" fill="none" stroke="#111" stroke-width="1"/>
<line x1="826.30" y1="412.00" x2="947.50" y2="412.00" stroke="#111" stroke-width="1.5" />
<!-- bottom view -->
<text transform="translate(968.50 565.40) rotate(0) scale(0.885 1)" text-anchor="middle" font-size="26.5" fill="#1a1a1a" stroke="#fff" stroke-width="0.5">4&#8211;&#248;9.5</text>
<line x1="871.00" y1="571.50" x2="1012.00" y2="571.50" stroke="#111" stroke-width="1" />
<polygon points="895.50,571.50 883.50,573.70 883.50,569.30" fill="#111"/>
<polygon points="903.50,571.50 915.50,569.30 915.50,573.70" fill="#111"/>
<line x1="895.50" y1="560.80" x2="895.50" y2="600.50" stroke="#111" stroke-width="1" />
<line x1="903.50" y1="560.80" x2="903.50" y2="600.50" stroke="#111" stroke-width="1" />
<line x1="784.00" y1="595.50" x2="899.50" y2="595.50" stroke="#111" stroke-width="1" />
<line x1="784.00" y1="756.50" x2="899.50" y2="756.50" stroke="#111" stroke-width="1" />
<line x1="794.50" y1="595.00" x2="794.50" y2="756.00" stroke="#111" stroke-width="1" /><polygon points="794.50,595.00 796.70,607.00 792.30,607.00" fill="#111"/><polygon points="794.50,756.00 792.30,744.00 796.70,744.00" fill="#111"/>
<text transform="translate(789.00 676.50) rotate(-90) scale(0.84 1)" text-anchor="middle" font-size="26.5" fill="#1a1a1a" stroke="#fff" stroke-width="0.5">&#248;200</text>
<line x1="893.20" y1="609.50" x2="1025.00" y2="609.50" stroke="#111" stroke-width="1" />
<line x1="893.20" y1="742.50" x2="1025.00" y2="742.50" stroke="#111" stroke-width="1" />
<line x1="1015.50" y1="609.20" x2="1015.50" y2="742.00" stroke="#111" stroke-width="1" /><polygon points="1015.50,609.20 1017.70,621.20 1013.30,621.20" fill="#111"/><polygon points="1015.50,742.00 1013.30,730.00 1017.70,730.00" fill="#111"/>
<text transform="translate(1009.90 676.50) rotate(-90) scale(0.84 1)" text-anchor="middle" font-size="26.5" fill="#1a1a1a" stroke="#fff" stroke-width="0.5">&#248;165</text>
<line x1="893.20" y1="603.50" x2="1076.00" y2="603.50" stroke="#111" stroke-width="1" />
<line x1="893.20" y1="748.50" x2="1076.00" y2="748.50" stroke="#111" stroke-width="1" />
<line x1="1064.50" y1="603.20" x2="1064.50" y2="748.00" stroke="#111" stroke-width="1" /><polygon points="1064.50,603.20 1066.70,615.20 1062.30,615.20" fill="#111"/><polygon points="1064.50,748.00 1062.30,736.00 1066.70,736.00" fill="#111"/>
<text transform="translate(1059.60 676.50) rotate(-90) scale(0.84 1)" text-anchor="middle" font-size="26.5" fill="#1a1a1a" stroke="#fff" stroke-width="0.5">&#248;180</text>
<circle cx="899.50" cy="675.40" r="80.60" fill="none" stroke="#111" stroke-width="1.3"/>
<circle cx="899.50" cy="675.40" r="8.30" fill="none" stroke="#111" stroke-width="1"/>
<g transform="rotate(0 899.5 675.4)"><path d="M883.32,615.03 Q885.2,613.5 887,615.6 A16,16 0 0 0 912,615.6 Q913.8,613.5 915.68,615.03 A62.5,62.5 0 0 1 959.87,659.22" fill="none" stroke="#111" stroke-width="1.3" stroke-linecap="round"/></g>
<g transform="rotate(90 899.5 675.4)"><path d="M883.32,615.03 Q885.2,613.5 887,615.6 A16,16 0 0 0 912,615.6 Q913.8,613.5 915.68,615.03 A62.5,62.5 0 0 1 959.87,659.22" fill="none" stroke="#111" stroke-width="1.3" stroke-linecap="round"/></g>
<g transform="rotate(180 899.5 675.4)"><path d="M883.32,615.03 Q885.2,613.5 887,615.6 A16,16 0 0 0 912,615.6 Q913.8,613.5 915.68,615.03 A62.5,62.5 0 0 1 959.87,659.22" fill="none" stroke="#111" stroke-width="1.3" stroke-linecap="round"/></g>
<g transform="rotate(270 899.5 675.4)"><path d="M883.32,615.03 Q885.2,613.5 887,615.6 A16,16 0 0 0 912,615.6 Q913.8,613.5 915.68,615.03 A62.5,62.5 0 0 1 959.87,659.22" fill="none" stroke="#111" stroke-width="1.3" stroke-linecap="round"/></g>
<rect x="895.50" y="598.50" width="8.00" height="14.00" rx="3.8" fill="none" stroke="#444" stroke-width="0.9"/>
<rect x="961.50" y="671.50" width="15.00" height="8.00" rx="4.0" fill="none" stroke="#444" stroke-width="0.9"/>
<line x1="966.50" y1="669.70" x2="966.50" y2="681.30" stroke="#111" stroke-width="0.9" />
<line x1="972.50" y1="669.70" x2="972.50" y2="681.30" stroke="#111" stroke-width="0.9" />
<rect x="895.50" y="737.50" width="8.00" height="15.00" rx="3.8" fill="none" stroke="#444" stroke-width="0.9"/>
<rect x="822.50" y="671.50" width="15.00" height="8.00" rx="4.0" fill="none" stroke="#444" stroke-width="0.9"/>
<line x1="826.50" y1="669.70" x2="826.50" y2="681.30" stroke="#111" stroke-width="0.9" />
<line x1="832.50" y1="669.70" x2="832.50" y2="681.30" stroke="#111" stroke-width="0.9" />
<circle cx="921.70" cy="622.10" r="2.2" fill="#111"/>
<circle cx="845.50" cy="653.50" r="2.2" fill="#111"/>
<circle cx="953.20" cy="698.00" r="2.2" fill="#111"/>
<circle cx="876.90" cy="729.70" r="2.2" fill="#111"/>
<line x1="816.60" y1="675.50" x2="845.00" y2="675.50" stroke="#111" stroke-width="1" />
<line x1="852.90" y1="675.50" x2="860.80" y2="675.50" stroke="#111" stroke-width="1" />
<line x1="867.10" y1="675.50" x2="931.90" y2="675.50" stroke="#111" stroke-width="1" />
<line x1="938.20" y1="675.50" x2="946.10" y2="675.50" stroke="#111" stroke-width="1" />
<line x1="952.50" y1="675.50" x2="981.70" y2="675.50" stroke="#111" stroke-width="1" />
<line x1="899.50" y1="593.00" x2="899.50" y2="622.40" stroke="#111" stroke-width="1" />
<line x1="899.50" y1="627.90" x2="899.50" y2="637.40" stroke="#111" stroke-width="1" />
<line x1="899.50" y1="644.50" x2="899.50" y2="706.30" stroke="#111" stroke-width="1" />
<line x1="899.50" y1="713.40" x2="899.50" y2="722.90" stroke="#111" stroke-width="1" />
<line x1="899.50" y1="728.40" x2="899.50" y2="758.50" stroke="#111" stroke-width="1" />
<clipPath id="glandclip"><path d="M700,500 H1076 V903 H700 Z M980.1,675.4 A80.6,80.6 0 1 0 818.9,675.4 A80.6,80.6 0 1 0 980.1,675.4 Z" clip-rule="evenodd"/></clipPath>
<g clip-path="url(#glandclip)"><g transform="translate(839 615.6) rotate(-45)"><path d="M-9.2,4.8 V-2.6 Q-9.2,-4.8 -7,-4.8 H7 Q9.2,-4.8 9.2,-2.6 V4.8" fill="none" stroke="#111" stroke-width="1.1" /><line x1="-9.20" y1="-0.50" x2="9.20" y2="-0.50" stroke="#111" stroke-width="0.9" /><line x1="-9.20" y1="0.50" x2="9.20" y2="0.50" stroke="#111" stroke-width="0.9" /><line x1="-9.20" y1="2.50" x2="9.20" y2="2.50" stroke="#111" stroke-width="0.8" /><line x1="-6.50" y1="2.00" x2="-6.50" y2="4.80" stroke="#111" stroke-width="0.9" /><line x1="-7.50" y1="2.00" x2="-7.50" y2="4.80" stroke="#111" stroke-width="0.8" /><line x1="1.50" y1="2.00" x2="1.50" y2="4.80" stroke="#111" stroke-width="0.9" /><line x1="3.50" y1="2.00" x2="3.50" y2="4.80" stroke="#111" stroke-width="0.9" /><line x1="9.00" y1="-2.00" x2="9.00" y2="3.00" stroke="#111" stroke-width="1.6" /></g></g>
<!-- isometric view -->
<ellipse cx="278.00" cy="855.00" rx="60.00" ry="34.60" fill="none" stroke="#1a1a1a" stroke-width="0.9" transform="rotate(0 278.00 855.00)"/>
<path d="M218,855 V859.8 A60,34.6 0 0 0 338,859.8 V855" fill="none" stroke="#1a1a1a" stroke-width="0.9" />
<path d="M230.6,844.6 L231.5,860.5 Q233,866 240.3,867.6" fill="none" stroke="#1a1a1a" stroke-width="0.9" />
<path d="M231.5,837.5 Q233,835.2 235.9,835.7 Q239.5,836.5 241.2,839.2 Q244.5,843 243.9,846.3 Q243.5,849.5 241.2,850.8 L240.3,867.6 Q246,871 251.8,870.2 L253.6,857 Q255,855 257.1,855.2 Q265,856 271.3,862.3" fill="none" stroke="#1a1a1a" stroke-width="0.9" />
<path d="M234.1,839.5 L239.4,850.8 L241.2,850.8" fill="none" stroke="#1a1a1a" stroke-width="0.8" />
<path d="M235,846.3 L235.9,862.3 Q238,866 243,867.6" fill="none" stroke="#1a1a1a" stroke-width="0.8" />
<path d="M231.5,837.5 L231,844" fill="none" stroke="#1a1a1a" stroke-width="0.8" />
<path d="M253.6,872 Q262,879.5 275,880.5 Q290,881 303.2,880" fill="none" stroke="#1a1a1a" stroke-width="0.9" />
<path d="M257.5,857.5 Q262,861.5 268.5,862.8" fill="none" stroke="#555" stroke-width="0.6" />
<ellipse cx="242.10" cy="876.10" rx="4.20" ry="2.00" fill="none" stroke="#1a1a1a" stroke-width="0.9" transform="rotate(-28 242.10 876.10)"/>
<line x1="240.00" y1="877.80" x2="244.40" y2="874.40" stroke="#1a1a1a" stroke-width="0.7" />
<ellipse cx="317.50" cy="876.30" rx="2.60" ry="1.30" fill="none" stroke="#1a1a1a" stroke-width="0.9" transform="rotate(-25 317.50 876.30)"/>
<line x1="316.60" y1="877.40" x2="318.60" y2="875.20" stroke="#1a1a1a" stroke-width="0.7" />
<rect x="211.50" y="835.50" width="11.00" height="17.00" rx="1" fill="#fff" stroke="#1a1a1a" stroke-width="0.9"/>
<rect x="222.50" y="837.50" width="5.00" height="13.00" rx="0" fill="#fff" stroke="#1a1a1a" stroke-width="0.9"/>
<rect x="227.50" y="839.50" width="3.00" height="9.00" rx="0" fill="#fff" stroke="#1a1a1a" stroke-width="0.8"/>
<line x1="215.50" y1="835.80" x2="215.50" y2="852.30" stroke="#1a1a1a" stroke-width="0.8" />
<line x1="219.50" y1="835.80" x2="219.50" y2="852.30" stroke="#1a1a1a" stroke-width="0.8" />
<line x1="211.40" y1="843.50" x2="222.50" y2="843.50" stroke="#1a1a1a" stroke-width="0.7" />
<line x1="224.00" y1="837.20" x2="224.00" y2="850.80" stroke="#1a1a1a" stroke-width="1.4" />
<path d="M177.4,740 V801 L184.5,810.9 L301.5,876.8 L300,809.6 L255.8,784.6 V740 Z" fill="#fff" stroke="none" stroke-width="none" />
<path d="M177.4,748 V801 L184.5,810.9" fill="none" stroke="#111" stroke-width="1.3" />
<line x1="184.50" y1="810.90" x2="301.50" y2="876.80" stroke="#111" stroke-width="1.8" />
<path d="M178.6,750.5 Q182.5,755 180.5,761.5 Q179.2,763 178.6,760" fill="none" stroke="#1a1a1a" stroke-width="0.8" />
<path d="M178.6,802.5 L184.5,806.2 L185.5,809.5" fill="none" stroke="#1a1a1a" stroke-width="0.8" />
<line x1="255.80" y1="784.60" x2="299.50" y2="809.60" stroke="#1a1a1a" stroke-width="0.9" />
<line x1="266.70" y1="776.00" x2="307.00" y2="798.50" stroke="#1a1a1a" stroke-width="0.9" />
<line x1="282.20" y1="766.00" x2="309.00" y2="781.00" stroke="#1a1a1a" stroke-width="0.9" />
<line x1="293.00" y1="758.20" x2="312.00" y2="768.50" stroke="#1a1a1a" stroke-width="0.9" />
<path d="M309,760 L376,770 V838.8 L306.3,878.2 L301,880 L298.3,876 V808 Z" fill="#fff" stroke="none" stroke-width="none" />
<path d="M300,756.5 Q306,760 308.2,766 Q309.6,770 309.3,773.3 L300.5,797 Q298.3,803 298.3,809 V871" fill="none" stroke="#1a1a1a" stroke-width="0.9" />
<path d="M304,755 Q311,759 312.6,766 Q313.3,770 312.9,773.3 L304.8,797 Q302.6,802.5 302.6,808 V874" fill="none" stroke="#111" stroke-width="1.8" />
<path d="M315.2,773.5 L307.1,797.9 Q304.8,803 304.8,809 V874.4" fill="none" stroke="#333" stroke-width="0.7" />
<path d="M316.9,773.7 L308.8,798.6 Q306.4,803 306.4,809 V874.0" fill="none" stroke="#555" stroke-width="0.7" />
<path d="M318.6,773.9 L310.5,799.3 Q308.0,803 308.0,809 V873.6" fill="none" stroke="#333" stroke-width="0.7" />
<path d="M320.5,774.1 L312.4,800.0 Q309.8,803 309.8,809 V873.1" fill="none" stroke="#444" stroke-width="0.7" />
<path d="M305.3,810 H308.6 V875 H305.3 Z" fill="#bbb" stroke="none" stroke-width="none" />
<path d="M316,757.5 Q320.5,762 321.3,768 L321.2,774 L319.3,786.6 L313.6,801 Q312.6,804 312.6,808 V872.4" fill="none" stroke="#111" stroke-width="1.6" />
<line x1="314.20" y1="775.00" x2="319.60" y2="776.60" stroke="#222" stroke-width="0.7" />
<line x1="313.34" y1="777.50" x2="318.74" y2="779.10" stroke="#222" stroke-width="0.7" />
<line x1="312.48" y1="780.00" x2="317.88" y2="781.60" stroke="#222" stroke-width="0.7" />
<line x1="311.62" y1="782.50" x2="317.02" y2="784.10" stroke="#222" stroke-width="0.7" />
<line x1="310.76" y1="785.00" x2="316.16" y2="786.60" stroke="#222" stroke-width="0.7" />
<line x1="309.90" y1="787.50" x2="315.30" y2="789.10" stroke="#222" stroke-width="0.7" />
<line x1="309.04" y1="790.00" x2="314.44" y2="791.60" stroke="#222" stroke-width="0.7" />
<line x1="308.18" y1="792.50" x2="313.58" y2="794.10" stroke="#222" stroke-width="0.7" />
<line x1="307.32" y1="795.00" x2="312.72" y2="796.60" stroke="#222" stroke-width="0.7" />
<line x1="306.46" y1="797.50" x2="311.86" y2="799.10" stroke="#222" stroke-width="0.7" />
<line x1="305.60" y1="800.00" x2="311.00" y2="801.60" stroke="#222" stroke-width="0.7" />
<line x1="299.30" y1="756.00" x2="313.50" y2="762.60" stroke="#222" stroke-width="0.7" />
<line x1="301.70" y1="754.65" x2="314.90" y2="761.40" stroke="#222" stroke-width="0.7" />
<line x1="304.10" y1="753.30" x2="316.30" y2="760.20" stroke="#222" stroke-width="0.7" />
<line x1="306.50" y1="751.95" x2="317.70" y2="759.00" stroke="#222" stroke-width="0.7" />
<line x1="308.90" y1="750.60" x2="319.10" y2="757.80" stroke="#222" stroke-width="0.7" />
<line x1="308.60" y1="750.00" x2="317.20" y2="754.60" stroke="#111" stroke-width="2.6" />
<circle cx="312.50" cy="763.40" r="3.00" fill="#fff" stroke="#1a1a1a" stroke-width="0.9"/>
<circle cx="312.50" cy="763.40" r="1.50" fill="none" stroke="#111" stroke-width="1.0"/>
<path d="M303.5,758.5 Q302.5,764 307,768.5 Q310,771 312.9,771" fill="none" stroke="#1a1a1a" stroke-width="0.9" />
<path d="M298.3,871 Q298.5,876 301,879.2 Q303.5,880.6 306.3,878.2" fill="none" stroke="#1a1a1a" stroke-width="1.0" />
<circle cx="302.30" cy="876.20" r="1.60" fill="none" stroke="#111" stroke-width="0.9"/>
<path d="M301,816.5 Q293.2,815.5 293.4,823 Q294,831 300.5,833.3 Q303.6,832.8 303.8,829" fill="#fff" stroke="#1a1a1a" stroke-width="0.9" />
<path d="M297.5,818.5 Q296,824 299.5,830.5" fill="none" stroke="#1a1a1a" stroke-width="0.7" />
<circle cx="303.20" cy="824.20" r="2.70" fill="#fff" stroke="#111" stroke-width="1.3"/>
<circle cx="303.20" cy="824.20" r="1.00" fill="none" stroke="#111" stroke-width="0.9"/>
<line x1="324.50" y1="801.00" x2="324.50" y2="867.80" stroke="#1a1a1a" stroke-width="0.9" />
<line x1="365.50" y1="806.50" x2="365.50" y2="844.50" stroke="#1a1a1a" stroke-width="0.9" />
<line x1="376.50" y1="773.00" x2="376.50" y2="838.00" stroke="#1a1a1a" stroke-width="0.9" />
<line x1="381.50" y1="763.00" x2="381.50" y2="832.50" stroke="#1a1a1a" stroke-width="0.9" />
<path d="M376,838.8 L379,838.5 L381,832.5" fill="none" stroke="#1a1a1a" stroke-width="0.9" />
<line x1="306.30" y1="878.20" x2="376.00" y2="838.80" stroke="#111" stroke-width="1.6" />
<line x1="312.60" y1="871.60" x2="372.00" y2="838.00" stroke="#1a1a1a" stroke-width="0.7" />
<line x1="324.60" y1="864.90" x2="365.50" y2="841.80" stroke="#444" stroke-width="0.7" />
<path d="M381,763 L383,760.6 L388,768 L401.3,788 Q403.8,790.5 403.8,794 V812 L381,829.5" fill="none" stroke="#1a1a1a" stroke-width="0.9" />
<path d="M383.8,771.4 L387.1,767.2" fill="none" stroke="#1a1a1a" stroke-width="0.7" />
<path d="M381,782.2 L394.6,774.7" fill="none" stroke="#1a1a1a" stroke-width="0.7" />
<path d="M381,785 L396.2,776.8" fill="none" stroke="#444" stroke-width="0.7" />
<path d="M381,823 L400.5,808 V794" fill="none" stroke="#444" stroke-width="0.7" />
<path d="M319,746.5 L400,700.3 V705.8 L398,707 V711 L375.5,773 V800 L366.4,806.3 Q354,817 343,815.5 Q331,813.5 324.6,801.2 L318.9,752 Z" fill="#fff" stroke="#111" stroke-width="1.0" />
<path d="M322.3,752.5 L329.5,802 Q332.5,809.5 340.5,813" fill="none" stroke="#111" stroke-width="1.5" />
<line x1="320.50" y1="749.60" x2="399.60" y2="704.40" stroke="#1a1a1a" stroke-width="0.8" />
<line x1="321.00" y1="752.20" x2="398.20" y2="707.80" stroke="#111" stroke-width="1.4" />
<circle cx="326.90" cy="750.30" r="2.60" fill="none" stroke="#111" stroke-width="1.3"/>
<circle cx="326.90" cy="750.30" r="0.90" fill="none" stroke="#111" stroke-width="0.8"/>
<circle cx="360.60" cy="731.20" r="2.60" fill="none" stroke="#111" stroke-width="1.3"/>
<circle cx="360.60" cy="731.20" r="0.90" fill="none" stroke="#111" stroke-width="0.8"/>
<circle cx="393.80" cy="712.00" r="2.60" fill="none" stroke="#111" stroke-width="1.3"/>
<circle cx="393.80" cy="712.00" r="0.90" fill="none" stroke="#111" stroke-width="0.8"/>
<ellipse cx="354.60" cy="790.80" rx="13.80" ry="23.40" fill="#fff" stroke="#1a1a1a" stroke-width="0.9" transform="rotate(30 354.60 790.80)"/>
<ellipse cx="355.80" cy="790.40" rx="13.40" ry="22.90" fill="none" stroke="#111" stroke-width="2.0" transform="rotate(30 355.80 790.40)"/>
<ellipse cx="357.00" cy="790.00" rx="13.00" ry="22.40" fill="none" stroke="#1a1a1a" stroke-width="0.8" transform="rotate(30 357.00 790.00)"/>
<ellipse cx="358.60" cy="789.50" rx="12.60" ry="21.90" fill="#fff" stroke="#111" stroke-width="1.3" transform="rotate(30 358.60 789.50)"/>
<circle cx="365.60" cy="777.20" r="1.1" fill="#222"/>
<circle cx="349.00" cy="798.00" r="1.1" fill="#222"/>
<circle cx="365.60" cy="799.60" r="1.1" fill="#222"/>
<path d="M256.6,778.4 L480.6,648.2 L482,650.4 L256.6,780.7" fill="none" stroke="#1a1a1a" stroke-width="0.8" />
<path d="M105.5,638.8 V650.2 L103.5,651 V668.5 L105.6,671.5 V700 Q105.6,707 111.3,710 L245,786 Q249.6,788.5 251.6,784 V734 L228,721 L222.5,706 Z" fill="#fff" stroke="#1a1a1a" stroke-width="0.9" />
<ellipse cx="147.50" cy="691.80" rx="15.00" ry="26.00" fill="none" stroke="#1a1a1a" stroke-width="0.9" transform="rotate(-30 147.50 691.80)"/>
<clipPath id="isoR"><path d="M105,640 L222.5,706.3 Q228,709 228,715 V720.5 L252,734.5 V800 H105 Z"/></clipPath>
<g clip-path="url(#isoR)"><ellipse cx="209.50" cy="721.00" rx="22.50" ry="36.50" fill="none" stroke="#1a1a1a" stroke-width="0.9" transform="rotate(-30 209.50 721.00)"/></g>
<ellipse cx="192.50" cy="742.00" rx="3.40" ry="5.20" fill="none" stroke="#1a1a1a" stroke-width="0.9" transform="rotate(-30 192.50 742.00)"/>
<ellipse cx="108.30" cy="662.00" rx="1.60" ry="2.60" fill="none" stroke="#1a1a1a" stroke-width="0.8" transform="rotate(-30 108.30 662.00)"/>
<ellipse cx="116.30" cy="705.80" rx="1.60" ry="2.60" fill="none" stroke="#1a1a1a" stroke-width="0.8" transform="rotate(-30 116.30 705.80)"/>
<ellipse cx="178.80" cy="741.80" rx="1.60" ry="2.60" fill="none" stroke="#1a1a1a" stroke-width="0.8" transform="rotate(-30 178.80 741.80)"/>
<ellipse cx="249.30" cy="743.30" rx="1.60" ry="2.60" fill="none" stroke="#1a1a1a" stroke-width="0.8" transform="rotate(-30 249.30 743.30)"/>
<ellipse cx="241.20" cy="778.20" rx="1.60" ry="2.60" fill="none" stroke="#1a1a1a" stroke-width="0.8" transform="rotate(-30 241.20 778.20)"/>
<path d="M157,671 L158.5,669.8 L187.5,686.3 L160,674 Z" fill="none" stroke="#1a1a1a" stroke-width="0.8" />
<path d="M157,671 Q155.8,673.5 159,674.2" fill="none" stroke="#1a1a1a" stroke-width="0.8" />
<path d="M82.5,625.5 Q79.5,626 79.5,629.5 V634 Q79.5,636.3 82,637.3 L101.3,648.6 L105.5,646.2 V638.8" fill="#fff" stroke="#1a1a1a" stroke-width="0.9" />
<path d="M82.5,625.5 L348.8,472.6 Q351.3,471.2 353.6,472.6 L490,551 Q495.7,554.5 495.7,560.2 V587.4 Q495.7,593 489.1,596.7 L482.2,600.5 V621 Q481.5,624.5 477.5,626.9 L262,752 L258.6,751.2 V731.5 H253.5 L251.2,734.2 L231,724.1 Q227.9,722.5 227.9,720.2 V711.7 Q227.9,708 223.3,705.5 Z" fill="#fff" stroke="#1a1a1a" stroke-width="0.9" />
<line x1="84.20" y1="627.60" x2="349.50" y2="475.20" stroke="#1a1a1a" stroke-width="0.7" />
<line x1="223.30" y1="705.50" x2="490.00" y2="553.20" stroke="#1a1a1a" stroke-width="0.9" />
<line x1="228.60" y1="714.80" x2="495.00" y2="561.20" stroke="#1a1a1a" stroke-width="0.9" />
<path d="M482.6,598.2 H490 V620.7 H488.7 V650 Q488.7,652.6 485.8,652.6 Q483,652.6 483,650 V620.7 H482.6 Z" fill="#fff" stroke="#1a1a1a" stroke-width="0.9" />
<line x1="484.50" y1="600.00" x2="484.50" y2="620.70" stroke="#1a1a1a" stroke-width="0.7" />
<line x1="483.00" y1="620.50" x2="488.70" y2="620.50" stroke="#1a1a1a" stroke-width="0.7" />
<line x1="486.50" y1="622.00" x2="486.50" y2="651.00" stroke="#555" stroke-width="0.6" />
<path d="M253.5,731.5 L255.3,729.3 H258.8 L258.6,731.5" fill="none" stroke="#1a1a1a" stroke-width="0.8" />
<line x1="254.00" y1="734.00" x2="254.00" y2="754.00" stroke="#111" stroke-width="1.6" />
<rect x="251.50" y="755.50" width="5.00" height="28.00" rx="0" fill="#fff" stroke="#1a1a1a" stroke-width="0.8"/>
<line x1="256.50" y1="733.00" x2="256.50" y2="751.00" stroke="#555" stroke-width="0.6" />
<circle cx="471.30" cy="619.50" r="1.1" fill="#333"/>
<circle cx="370.50" cy="677.30" r="1.1" fill="#333"/>
<circle cx="270.50" cy="735.30" r="1.1" fill="#333"/>
<path d="M317.3,516.5 L334.3,506.8 Q335.3,506.5 336.2,507.6 Q338.7,509.3 341.3,507.6 Q342.2,506.5 343.2,506.8 L353.2,512.3 L353.8,522.3 L338.5,530.6 H326.2 L317,525.1 Z" fill="#fff" stroke="#111" stroke-width="0.9" />
<path d="M318.2,521.6 L327.3,526.8 M337.3,526.8 L352.6,518" fill="none" stroke="#111" stroke-width="1.3" />
<path d="M329.5,527 Q332.5,525.2 335,527" fill="none" stroke="#555" stroke-width="0.7" />
<rect x="327.50" y="526.50" width="2.00" height="4.00" rx="0" fill="#111" stroke="#111" stroke-width="0.6"/>
<rect x="334.50" y="526.50" width="2.00" height="4.00" rx="0" fill="#111" stroke="#111" stroke-width="0.6"/>
<line x1="330.50" y1="527.50" x2="330.50" y2="530.60" stroke="#111" stroke-width="0.8" />
<line x1="337.50" y1="527.50" x2="337.50" y2="530.60" stroke="#111" stroke-width="0.8" />
<line x1="319.00" y1="516.60" x2="319.00" y2="521.00" stroke="#111" stroke-width="1.7" />
<line x1="352.00" y1="512.80" x2="352.00" y2="517.60" stroke="#111" stroke-width="1.7" />
</svg>
</body>
</html>
